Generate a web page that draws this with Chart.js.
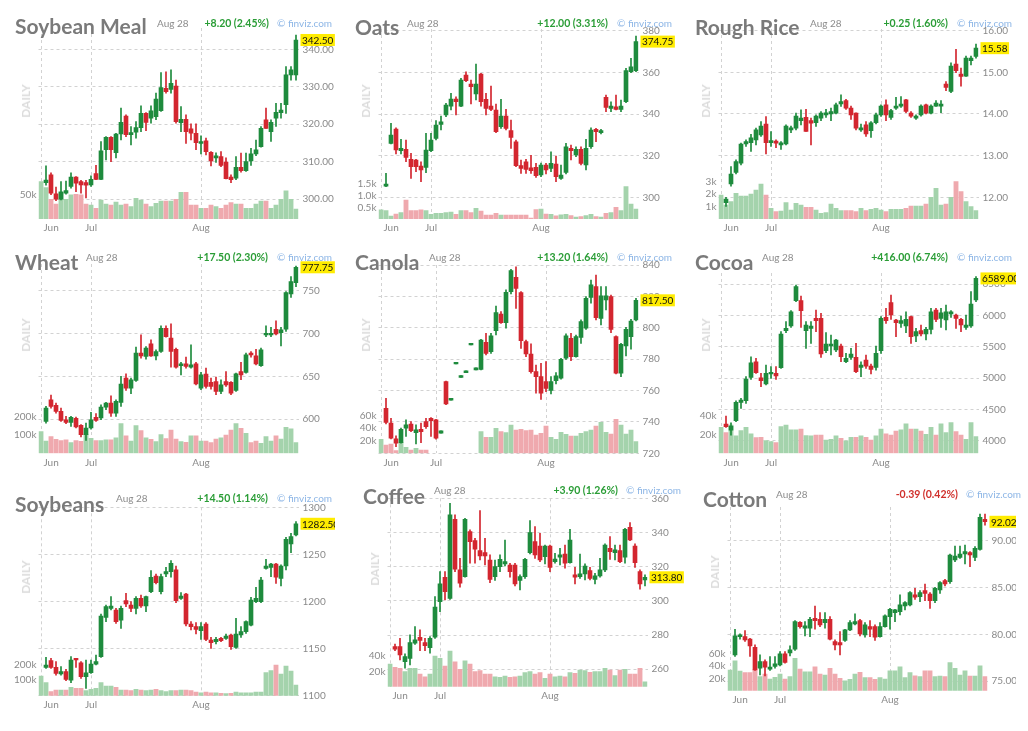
<!DOCTYPE html>
<html><head><meta charset="utf-8">
<script src="https://cdn.jsdelivr.net/npm/chart.js@4.4.0/dist/chart.umd.min.js"></script>
<style>
html,body{margin:0;padding:0;background:#fff;}
body{width:1028px;height:731px;position:relative;overflow:hidden;font-family:Lato,sans-serif;}
.t{position:absolute;white-space:nowrap;line-height:1;}
.title{font-size:21px;font-weight:700;color:#7a7a7a;}
.date{font-size:10px;color:#8c8c8c;}
.chg{font-size:10.5px;font-weight:700;transform:translateX(-100%);}
.fv{font-size:10px;color:#8db6e6;}
.daily{font-size:12px;font-weight:700;color:#dcdcdc;transform:translate(-50%,-50%) rotate(-90deg);}
.wrap{position:absolute;}
</style></head><body>
<script>
// ---------- DATA ----------
const names = ['Soybean Meal','Oats','Rough Rice','Wheat','Canola','Cocoa','Soybeans','Coffee','Cotton'];
const dateText = 'Aug 28';
const changes = ['+8.20 (2.45%)','+12.00 (3.31%)','+0.25 (1.60%)','+17.50 (2.30%)','+13.20 (1.64%)','+416.00 (6.74%)','+14.50 (1.14%)','+3.90 (1.26%)','-0.39 (0.42%)'];
const monthLabels = ['Jun','Jul','Aug'];
const monthIdx = [0,10,32];
const canolaMonthIdx = [0,11,33];

const mealO=[null,304.4,306.5,301.4,300,301.6,303.4,305.9,304.7,304.4,303.8,306.8,305.3,313.2,316.5,312.4,317.4,322.2,317.2,317.9,319.1,322.9,321.6,322,323.6,329.6,329.3,330.2,320.4,321.3,318.8,317.6,314.9,315.6,312.5,311,311.4,309.9,305.9,305.6,308.5,307.6,310.2,312.1,314,321.2,318,321.6,323.1,325.2,333.2,333.2];
const mealH=[null,308.9,307,303.2,304.7,304.8,307,306,305,305,306.2,309,315.4,316.7,316.7,317.6,324.3,322.5,319.4,320.7,324.9,323.1,324.9,328.3,333.8,334,334.5,331.8,324.7,322.5,320.1,320.1,316.9,316.3,312.7,312.4,312.7,311,306.5,311.4,312.3,312.3,313.6,315.8,319.4,324.3,321.2,325.6,325.6,335.4,335.4,343.8];
const mealL=[null,303.7,301.2,299.6,299.8,301.3,302.9,302,301.6,300.3,303.4,305.2,305.2,310.5,310,311,315.8,316.7,314.5,316.3,318,318.3,320.3,321.2,323.4,328.3,328.3,320.3,318,314.9,315.8,313.2,312.1,311.8,308.9,309.8,308.7,305.4,304.4,305.2,307.2,307.4,309,311.6,313.9,318.9,315.4,319.4,321.6,322.9,331.8,331.8];
const mealC=[null,305.1,301.6,300,301.9,302.3,305.9,304.3,303.8,303.7,305.3,305.3,312.9,316.5,313.2,317.4,320.5,317.2,317.8,319.1,322.9,320.5,323.6,326.7,329.8,328.7,330.9,320.7,321.3,318,317.6,315.1,315.4,312.7,310.2,311.6,309,305.5,305.2,308.5,307.6,310,312.1,313.2,318.9,318.9,320.5,323.2,323.8,333.2,334.5,342.5];
const mealV=[75.7,63.5,39.9,30.4,55.4,39.9,48.7,50,48.7,30.4,28.4,21.6,38.5,30.4,28.4,34.5,28.4,30.4,25,41.9,38.5,30.4,25,31.8,36.5,36.5,36.5,39.9,54,54,28.4,28.4,21.6,21.6,28.4,25,21.6,28.4,33.1,30.4,30.4,21.6,21.6,30.4,36.5,36.5,21.6,28.4,39.9,56.8,39.9,20.3];

const oatsO=[null,305.4,325.9,332.8,322.4,323,318.2,317.9,315,314.4,322.4,328.3,335,339.5,343.8,347.2,343.8,358.7,354.4,349.6,359.2,347,343.8,341.9,333.9,339,332,326.7,315.2,317.1,314.2,314.4,310.7,315.5,313.9,316,309.1,312,323.5,320.3,323,315.5,324.3,332.6,331,348,342.7,343.5,342.2,345.9,360.3,360.8];
const oatsH=[null,311.5,335.5,333.4,327.8,327.5,321.1,318.2,317.1,330.7,330.7,336.8,339,345.1,349.9,348.3,357.1,360.3,356.3,364,359.5,349.9,353.4,344.8,347,342.2,337.1,327.5,317.9,318.2,320.2,316.3,316.5,316.3,321.9,319.8,315.5,325.9,325.1,324.3,324.3,327.8,333.4,333.1,332.6,349.1,345.9,349.1,346.7,361.9,366.7,377.4];
const oatsL=[null,305.1,325.6,320.8,320.8,317.1,309.1,312.3,307.5,311.8,321.9,327.5,332.3,338.7,341.9,339.5,343.5,355.5,344.8,346.7,343.8,339.5,341.6,331,333.1,332.3,323.5,314.7,311.5,311.5,311.5,309.6,309.9,311.2,312.3,307.5,308.6,311.2,317.9,319.5,315.5,313.1,323.5,326.7,330.4,341.1,341.1,341.9,341.1,345.4,359.8,360.3];
const oatsC=[null,306.4,329.9,322.7,323.5,319.2,314.7,314.7,313.1,322.7,327.5,334.7,336.3,344.3,347.2,345.9,356.3,356,353.1,354.4,345.9,342.7,342.2,331.5,339,333.1,328.8,315.2,313.9,313.4,312.8,310.4,315.5,313.1,316.3,309.9,310.7,324.3,322.4,323,316.3,323.5,332.3,331.5,332,343.2,343.8,342.2,343.8,360.8,362.7,374.75];
const oatsV=[0.39,0.36,0.13,0.21,0.27,0.81,0.36,0.36,0.39,0.36,0.2,0.24,0.24,0.27,0.3,0.2,0.36,0.36,0.27,0.46,0.34,0.17,0.17,0.24,0.17,0.17,0.17,0.17,0.17,0.17,0.04,0.4,0.43,0.21,0.2,0.14,0.18,0.2,0.15,0.08,0.1,0.15,0.2,0.1,0.08,0.24,0.28,0.5,0.36,1.39,0.64,0.43];

const riceO=[null,11.87,12.32,12.6,12.82,13.28,13.31,13.38,13.5,13.76,13.31,13.35,13.26,13.28,13.62,13.66,13.84,13.92,13.84,13.79,13.9,13.98,14.0,14.02,14.24,14.32,14.14,14.02,13.62,13.74,13.6,13.79,13.98,14.22,13.92,14.14,14.19,14.34,14.02,13.9,13.98,14.22,14.02,14.19,14.19,14.72,14.54,15.2,14.96,14.91,15.28,15.38];
const riceH=[null,12.0,12.74,12.9,13.3,13.38,13.51,13.66,13.82,13.94,13.58,13.38,13.34,13.74,13.71,14.02,14.1,14.11,13.9,13.98,14.06,14.11,14.14,14.26,14.46,14.35,14.19,14.03,13.76,13.82,13.82,14.02,14.22,14.34,14.11,14.4,14.42,14.35,14.06,13.98,14.22,14.24,14.22,14.32,14.32,14.78,15.23,15.55,15.1,15.39,15.39,15.68];
const riceL=[null,11.78,12.27,12.56,12.78,13.22,13.1,13.26,13.46,13.04,13.22,13.19,13.15,13.26,13.55,13.62,13.74,13.58,13.26,13.7,13.84,13.92,13.84,14.0,14.18,14.11,13.87,13.62,13.58,13.46,13.44,13.76,13.94,13.84,13.87,14.11,14.16,14.03,13.92,13.87,13.95,14.0,14.0,14.18,14.03,14.56,14.51,14.99,14.67,14.9,15.18,15.34];
const riceC=[null,11.96,12.56,12.86,13.28,13.34,13.43,13.62,13.71,13.31,13.36,13.3,13.31,13.71,13.67,13.95,13.9,13.58,13.78,13.95,14.02,14.03,14.06,14.22,14.3,14.14,13.98,13.66,13.67,13.52,13.79,13.98,14.19,13.98,14.08,14.19,14.24,14.06,13.95,13.95,14.19,14.02,14.19,14.26,14.24,14.64,15.15,15.04,14.9,15.34,15.34,15.58];
const riceV=[1.92,1.12,1.39,2.05,1.84,1.84,2.0,2.32,2.8,1.92,0.85,0.59,0.64,1.31,0.72,1.25,1.12,0.93,0.93,0.72,0.45,0.51,1.2,0.85,0.67,0.67,0.67,0.59,0.85,0.67,0.77,0.85,0.72,0.59,0.77,0.77,0.77,0.85,1.04,1.04,1.04,1.2,1.73,2.45,1.12,1.2,1.73,2.99,2.19,1.39,0.99,0.67];

const wheatO=[null,597.3,622.6,616,609,599.2,596.1,600.8,592.6,581.7,589.5,602,601.2,614,618.7,607,619.5,647.9,636.2,645.2,677.2,673.3,688,674,679.1,706.4,694.7,681.8,662.4,664.7,660.8,664.7,636.2,652.6,642.9,644,632.3,644,642.9,633.5,655.7,654.6,677.2,674,662.4,698.6,698.6,705.2,701.3,705.2,746.5,759.7];
const wheatH=[null,614.8,628,618.7,612.9,603.1,603.1,602.4,593.4,595.3,607.8,606.3,616.8,619.5,627.3,622.6,650,653,648,684.2,698.6,685,692.7,681,709.1,709.1,711.4,683,666.3,672.5,686.9,666.3,654.6,659.6,647.9,649.1,646,655.7,644,653.8,666.3,677.2,679.1,681.8,683,709.1,707.5,715,707.5,749.2,766.8,779.2];
const wheatL=[null,595.3,612.9,607,597.3,594.6,591.4,589.5,579,575.1,588.3,597.3,599.2,610.9,603.1,603.1,614.8,633.5,629.6,644,671.3,670.1,673.3,669.4,677.9,695.9,660.8,659.6,651.8,659.6,659.6,640.1,634.3,636.2,635.1,628.5,629.6,638.2,628.5,632.3,646,653.8,672.5,663.5,661.6,696.6,696.6,698.6,685.7,702.5,742.6,755];
const wheatC=[null,612.9,614.8,609,598.5,596.1,602,590.7,581.7,589.5,599.2,598.5,614,618.7,607,620.7,640.9,636.2,646,677.2,674,683,674,679.1,706.4,696.6,679.1,660.8,664.7,661.6,663.5,641.3,651.8,638.2,638.2,632.3,640.1,640.1,630.4,653,651.8,675.2,675.2,664.7,681,700.5,700.5,699.7,704.4,748,760.9,777.75];
const wheatV=[118,67,91,76,69,73,58,69,65,104,82,69,69,73,73,85,162,95,67,151,124,85,76,64,102,80,127,78,64,60,96,96,67,67,58,78,85,100,127,162,136,109,58,67,55,91,67,95,78,142,133,58];

const canolaO=[null,748.7,739.2,729.2,726.8,736,738.7,733.2,735.3,740.2,742.3,741.3,732.8,765.7,753.8,777,768.4,771.4,789,773.1,773.5,790.7,784.8,798.2,808.8,803.3,823,832.1,822.4,791.2,783.3,772.1,768.9,765.7,760,766.3,767.8,780.6,793.3,781.6,793.9,799.7,819.4,826.2,806,817.7,819.8,794.4,771,788.4,794.4,805];
const canolaH=[null,755.1,742.3,731.1,736,741.3,740.2,738.1,739.2,742.3,742.8,741.7,734.3,766.1,755.1,778,769.5,772.5,790.1,774.4,792.7,796.5,796.5,813.9,810.3,824.1,837.2,838.9,823,792.2,789.7,776.3,777.4,778.4,768.9,771.4,780.6,796.1,796.5,795.4,805,819.8,830.4,833.6,826.2,826.2,820.9,794.8,790.1,800.3,805.4,818.8];
const canolaL=[null,738.7,729.2,724.3,726.4,730.7,733.8,726,726.8,735.9,730.7,729,732.8,751,753.8,777,768.4,771.4,789,773.1,773.1,782.7,783.7,795.4,802.8,799.7,821.5,812.4,786.9,781.6,771,758.3,754.4,759.3,757.8,764.2,767.2,779.9,779.1,781.2,790.1,799,815.6,805,801.8,811.3,796.9,770.6,768.9,782,786.3,804.3];
const canolaC=[null,739.6,729.6,726.4,735.3,738.1,734.5,734.9,733.8,737,740.8,729.6,734.3,751.5,755.1,778,769.5,772.5,790.1,774.4,792.2,783.7,794.8,809.6,803.3,822.6,836.4,825.1,791.8,783.3,772.1,768.9,758.3,761.4,765.7,769.3,779.9,794.8,781.6,794.4,803.9,818.8,827.3,806.5,820.3,820.3,799,771,789.5,799,804.3,817.5];
const canolaV=[22.4,13.3,14.9,4.3,17,9.6,5.3,8,5.3,5.3,null,null,null,null,null,null,null,null,null,null,34.7,25.6,25.6,40,34.7,33,45.3,37.3,38.4,36.3,37.3,29.3,32,43.7,25.6,22.4,33.6,30.4,27.7,27.7,32,34.7,37.3,43.7,49.6,33.6,30.9,54.4,45.3,30.9,37.3,18.7];

const cocoaO=[null,4266,4170,4319,4611,4638,5010,5260,5005,4904,5064,5074,5165,5755,5830,6234,6234,5755,5792,5952,5952,5436,5511,5447,5511,5260,5330,5330,5170,5287,5191,5170,5436,5968,6202,5925,5872,5830,5979,5670,5755,5702,5777,6085,5952,5925,6021,6005,5936,5808,5830,6245];
const cocoaH=[null,4393,4287,4638,4675,5021,5340,5314,5074,5207,5181,5181,5739,5899,6074,6484,6308,5899,5899,6085,6032,5723,5686,5617,5542,5394,5473,5553,5260,5367,5223,5511,5979,6112,6324,5936,5989,6058,5989,5792,5846,5808,6112,6112,6112,6165,6074,6021,5952,6005,6378,6617];
const cocoaL=[null,4212,4090,4303,4516,4596,4979,5074,4861,4888,4994,4979,5154,5723,5808,6218,5808,5473,5553,5739,5330,5404,5367,5420,5260,5244,5298,5085,5021,5154,5064,5127,5394,5872,5936,5659,5808,5723,5553,5580,5670,5606,5702,5899,5808,5766,5968,5792,5739,5777,5808,6218];
const cocoaC=[null,4223,4234,4611,4649,4984,5244,5085,4957,5074,5090,5032,5702,5792,6058,6457,6074,5846,5830,5915,5383,5542,5542,5606,5340,5314,5383,5101,5207,5191,5138,5394,5952,5915,6005,5883,5915,5936,5659,5739,5702,5777,6058,5936,6042,6058,6058,5952,5846,5846,6181,6589];
const cocoaV=[27.4,21.8,29.8,18.3,23.9,27.4,20.4,16.5,16.8,13.3,12.3,11.2,28.1,29.8,24.6,24.6,25.6,18.6,18.3,19.3,19.3,14,14.7,18.3,15.8,13,16.8,16.8,18.3,16.8,14,18.3,25.6,20.4,19.3,23.5,24.6,30.9,25.6,25.6,23.5,20,27.4,19.3,30.9,21.8,32.3,22.8,19.3,14.7,32.3,17.6];

const soyO=[null,1130.1,1137.2,1130.1,1123,1125.5,1116.6,1139.6,1135,1120.2,1124.4,1133.6,1141.4,1183.2,1192.7,1191,1180.3,1200.9,1196.3,1192.7,1203.4,1195.2,1210.4,1227.1,1210.4,1229.2,1231.7,1233.5,1203.4,1208,1176.1,1173.3,1169,1176.1,1159.1,1157.3,1160.9,1160.9,1164.4,1151.3,1164.4,1168,1175,1199.8,1199.8,1235.2,1236.3,1239.8,1224.6,1237.7,1261.1,1270.6];
const soyH=[null,1140.7,1139.6,1136.1,1130.8,1128,1141.4,1139.6,1136.1,1137.9,1137.9,1143.2,1186.7,1196.3,1205.1,1192.7,1195.2,1208.7,1199.8,1205.1,1206.9,1205.8,1232.7,1229.2,1229.2,1236.3,1243.4,1237.7,1209.4,1208.7,1178.6,1177.5,1177.5,1177.5,1161.9,1161.9,1161.9,1165.5,1165.5,1182.1,1173.3,1179.6,1204.4,1215,1225.7,1244.8,1240.5,1240.5,1238.8,1268.1,1272.4,1284.8];
const soyL=[null,1129,1129,1121.9,1121.9,1115.9,1113.8,1130.1,1118.4,1107.8,1123.7,1132.6,1140.7,1178.6,1191,1176.8,1171.5,1194.5,1189.2,1186.7,1193.8,1189.2,1209.4,1218.6,1208,1226.4,1225.7,1198.8,1202.3,1174,1169.7,1165.5,1159.8,1158.4,1150.3,1154.9,1157.3,1159.8,1149.2,1150.3,1161.9,1166.2,1174,1198.8,1198.8,1234.2,1226.4,1219.3,1216.5,1233.5,1251.9,1269.6];
const soyC=[null,1132.6,1130.1,1123.7,1125.5,1117.3,1137.9,1137.9,1120.2,1124.4,1133.6,1136.1,1184.6,1194.5,1195.2,1178.6,1192.7,1197.3,1192.7,1203.4,1195.2,1205.1,1225.7,1220,1226.4,1231.7,1240.5,1200.9,1205.8,1176.1,1173.3,1170.4,1173.3,1159.8,1156.3,1159.8,1158.4,1163.4,1152,1165.5,1168,1178.6,1201.6,1203.4,1222.8,1237.7,1239.8,1225.7,1237.7,1266,1268.9,1282.5];
const soyV=[125.5,83,25.5,36.2,36.2,36.2,53.2,46.8,46.8,31.9,40.4,46.8,83,61.7,61.7,53.2,36.2,36.2,31.9,40.4,36.2,31.9,36.2,40.4,31.9,25.5,31.9,31.9,36.2,36.2,31.9,23.4,19.1,23.4,19.1,19.1,14.9,12.8,14.9,23.4,19.1,19.1,19.1,23.4,23.4,146.8,159.6,195.7,138.3,189.4,157.4,68.1];

const coffeeO=[null,273.3,273.3,264.5,266.4,275.2,278.7,275.6,272.7,278.7,299.6,313.8,301.5,347.7,318.1,314.2,340.5,335.2,329.4,328.2,323.9,314.2,320,321.6,321,321,311.9,314.2,328.2,334.7,332.1,325.9,332.1,323,325.5,327.4,322.4,315.2,314.2,315.8,317.7,312.6,314.6,318.1,330.8,328.2,329.4,325.5,343,332.1,317.1,312.2];
const coffeeH=[null,274.8,278.1,269,280.1,285,283,278.1,279.1,302.5,317.1,317.1,357.1,350.3,324.9,348.3,341.5,336.6,352.8,336.6,326.9,323.9,326.9,335.6,322,322,315.2,324.9,346.9,343.4,339.5,332.7,332.7,327.8,330.8,332.7,341.9,319.6,327.4,321.6,319.6,316.1,324.9,333.3,337.6,332.7,332.7,342.5,345.8,333.3,318.1,315.2];
const coffeeL=[null,270.9,265.5,260.6,262.5,274.6,270.9,270.9,269.4,278.1,293.7,300.5,300.9,317.1,308,313.8,322,322,323.9,321,310.7,311.9,317.1,320.4,313.8,308.7,306.4,313.2,327.4,324.9,323,321.6,317.1,322,321,319.1,322,309.9,313.2,312.2,312.2,309.9,313.8,317.1,324.3,323.9,322.4,322,335.2,319.6,306.8,308.7];
const coffeeC=[null,271.7,268.4,267.4,275.6,277.2,276.8,273.8,278.1,296.3,309.9,305.4,350.3,318.5,310.3,347.7,334.7,330.2,326.3,326.3,312.6,320,324.3,323,317.1,309.9,314.2,324.3,339.9,326.9,323.9,332.1,319.6,324.5,326.9,322,335.6,313.8,315.8,320.4,313.2,314.6,318.1,332.7,328.8,329.8,323,341.9,335.6,322.4,309.9,313.8];
const coffeeV=[29.6,25.2,23.9,19.6,23.9,23.9,16.5,13,16.5,40,37,27,46.5,32.6,22.6,33.9,29.6,19.6,20.9,16.5,16.5,13,12.2,13.9,12.2,13,13.9,18.3,19.6,16.5,18.3,10.9,16.5,13,13.9,13,18.3,17.4,21.8,20.9,18.7,19.6,19.6,23.9,21.8,14.4,21.8,22.6,16.5,16.5,23.9,6.5];

const cottonO=[null,77.81,79.76,79.76,79.48,78.62,76.38,77.1,76.28,76.56,76.74,77.91,78.02,78.41,81.29,80.65,80.65,81.72,81.61,81.25,81.61,79.23,79.12,79.34,80.47,81.11,81.47,79.94,80.83,80.83,79.76,80.83,81.9,82.32,82.43,83.03,83.14,84.21,84.03,84.67,84.31,83.6,84.74,85.73,85.63,87.94,88.22,88.58,88.72,88.22,89.08,92.28];
const cottonH=[null,80.54,80.05,80.4,79.58,78.87,77.81,77.27,77.63,77.63,78.16,78.16,78.77,81.47,81.36,81.36,81.82,83.03,82.32,82.32,81.9,79.41,80.3,80.54,81.47,82.18,81.61,81.25,81.47,81.01,81.25,82.07,82.78,82.68,84.21,83.49,84.56,84.92,84.67,85.38,84.45,85.02,85.63,85.88,88.58,89.43,89.43,89.54,88.83,89.36,92.84,92.84];
const cottonL=[null,77.63,79.48,79.23,77.63,76.14,75.67,75.57,76.14,76.38,76.63,76.92,77.7,78.27,80.65,79.83,79.76,80.54,80.83,80.65,79.41,78.34,77.81,79.23,80.4,81.01,79.83,79.69,79.76,79.34,79.69,80.76,80.54,81.36,82.07,82.61,83.03,83.74,83.49,83.6,82.78,83.39,84.38,85.17,85.45,87.76,88.12,87.51,87.23,87.87,89.0,91.67];
const cottonC=[null,79.83,79.94,79.41,78.77,76.21,77.1,76.49,76.49,76.85,77.91,76.99,78.34,81.36,80.83,80.9,81.61,81.47,81.01,81.61,79.48,78.87,78.87,80.47,81.25,81.36,80.05,81.01,80.54,79.69,80.83,81.97,82.68,82.61,83.14,83.39,84.45,83.96,84.45,84.38,83.6,84.92,85.52,85.38,88.47,88.36,88.58,88.83,88.47,89.18,92.49,92.02];
const cottonV=[33.5,48.6,31.9,29.2,29.2,34.6,22.7,27,18.9,21.6,27,18.9,22.7,52.4,35.1,30.8,30.8,38.9,27,25.4,36.2,27,20,16.2,18.4,27,29.7,21.1,21.1,18.4,21.1,18.9,32.4,32.4,38.9,21.1,29.2,24.3,22.7,32.4,32.4,22.7,23.8,22.7,45.4,36.2,25.4,32.4,23.8,23.8,40.5,22.7];

// axis tick values
const mealTicks=[300,310,320,330,340], oatsTicks=[300,320,340,360,380], riceTicks=[12,13,14,15,16];
const wheatTicks=[600,650,700,750], canolaTicks=[720,740,760,780,800,820,840], cocoaTicks=[4000,4500,5000,5500,6000,6500];
const soyTicks=[1100,1150,1200,1250,1300], coffeeTicks=[260,280,300,320,340,360], cottonTicks=[75,80,85,90];
const mealVolTicks=[50], oatsVolTicks=[0.5,1.0,1.5], riceVolTicks=[1,2,3], wheatVolTicks=[100,200], canolaVolTicks=[20,40,60];
const cocoaVolTicks=[20,40], soyVolTicks=[100,200], coffeeVolTicks=[20,40], cottonVolTicks=[20,40,60];

// ---------- LAYOUT (positions / ranges) ----------
const series = [
 {O:mealO,H:mealH,L:mealL,C:mealC,V:mealV,yt:mealTicks,vt:mealVolTicks,dec:2,vdec:0,months:monthIdx},
 {O:oatsO,H:oatsH,L:oatsL,C:oatsC,V:oatsV,yt:oatsTicks,vt:oatsVolTicks,dec:0,vdec:1,months:monthIdx},
 {O:riceO,H:riceH,L:riceL,C:riceC,V:riceV,yt:riceTicks,vt:riceVolTicks,dec:2,vdec:0,months:monthIdx},
 {O:wheatO,H:wheatH,L:wheatL,C:wheatC,V:wheatV,yt:wheatTicks,vt:wheatVolTicks,dec:0,vdec:0,months:monthIdx},
 {O:canolaO,H:canolaH,L:canolaL,C:canolaC,V:canolaV,yt:canolaTicks,vt:canolaVolTicks,dec:0,vdec:0,months:canolaMonthIdx},
 {O:cocoaO,H:cocoaH,L:cocoaL,C:cocoaC,V:cocoaV,yt:cocoaTicks,vt:cocoaVolTicks,dec:0,vdec:0,months:monthIdx},
 {O:soyO,H:soyH,L:soyL,C:soyC,V:soyV,yt:soyTicks,vt:soyVolTicks,dec:0,vdec:0,months:monthIdx},
 {O:coffeeO,H:coffeeH,L:coffeeL,C:coffeeC,V:coffeeV,yt:coffeeTicks,vt:coffeeVolTicks,dec:0,vdec:0,months:monthIdx},
 {O:cottonO,H:cottonH,L:cottonL,C:cottonC,V:cottonV,yt:cottonTicks,vt:cottonVolTicks,dec:2,vdec:0,months:monthIdx}
];
const layout = [
 {box:[0,0,335,240],   plot:[38.5,28,298.5,219],    yr:[294.7,345.7], vMax:386.6, title:[15,18.3],  date:[157,19.3],  chgR:269, fv:277, daily:[25.5,101]},
 {box:[345,0,340,240], plot:[378.5,29,638.5,219],   yr:[289.6,380.8], vMax:8.14,  title:[355,20],   date:[407,19.3],  chgR:608, fv:617, daily:[366,101]},
 {box:[685,0,331,240], plot:[718.5,29,978.5,219],   yr:[11.479,16.04],vMax:15.2,  title:[695,20],   date:[810,19.3],  chgR:948, fv:957, daily:[706,101]},
 {box:[0,240,335,238], plot:[38.5,264,298.5,453.3], yr:[559.9,781.6], vMax:1033,  title:[15,255],   date:[86,253.3],  chgR:268, fv:277, daily:[25.5,335]},
 {box:[345,240,340,238],plot:[378.5,265,638.5,453.3],yr:[720,840],    vMax:301,   title:[355,255],  date:[429,253.3], chgR:608, fv:617, daily:[366,335]},
 {box:[685,240,331,238],plot:[718.5,273,978.5,453.3],yr:[3799,6675.5],vMax:189.8, title:[695,255],  date:[762,253.3], chgR:948, fv:957, daily:[706,335]},
 {box:[0,480,335,245], plot:[38.5,507.3,298.5,695.7],yr:[1100,1300],  vMax:1202,  title:[15,496.7], date:[116,495],   chgR:268, fv:277, daily:[25.5,577]},
 {box:[345,480,340,245],plot:[387.5,498.3,647.5,686.7],yr:[249.8,360],vMax:245.8, title:[363,488.3],date:[434,486.7], chgR:618, fv:626, daily:[375,569]},
 {box:[685,480,331,245],plot:[727.5,507,987.5,690.7],yr:[73.98,93.6], vMax:297.9, title:[703,491.7],date:[776,490.7], chgR:958, fv:966, daily:[715,572]}
];

// ---------- STYLE ----------
const UP='#1e8b3d', DOWN='#d3262f', VUP='#a4d3ac', VDOWN='#efa9ae';
const GRID='#d2d2d2', TICK='#8a8a8a';
Chart.defaults.font.family='Lato';

const priceTag = {
  id:'priceTag',
  afterDraw(chart, args, opts){
    const {ctx, chartArea} = chart;
    const y = chart.scales.y.getPixelForValue(opts.value);
    const txt = opts.value.toFixed(2);
    ctx.save();
    ctx.font = '10px Lato';
    const w = ctx.measureText(txt).width;
    ctx.fillStyle = '#ffec00';
    ctx.fillRect(chartArea.right + 2, y - 6, w + 3, 12);
    ctx.fillStyle = '#111';
    ctx.textBaseline = 'middle';
    ctx.textAlign = 'left';
    ctx.fillText(txt, chartArea.right + 3.5, y + 0.5);
    ctx.restore();
  }
};

function addText(cls, txt, x, y, color){
  const d = document.createElement('div');
  d.className = 't ' + cls; d.textContent = txt;
  d.style.left = x + 'px'; d.style.top = y + 'px';
  if (color) d.style.color = color;
  document.body.appendChild(d);
  return d;
}

series.forEach((s, k) => {
  const lay = layout[k];
  const [bx, by, bw, bh] = lay.box;
  const [pl, pt, pr, pb] = lay.plot;
  const N = s.C.length;
  const wick=[], body=[], vol=[], colC=[], colV=[];
  for (let i=0;i<N;i++){
    const has = s.O[i] != null;
    const up = has ? s.C[i] >= s.O[i] : true;
    wick.push({x:i, y: has ? [s.L[i], s.H[i]] : null});
    body.push({x:i, y: has ? [s.O[i], s.C[i]] : null});
    vol.push({x:i, y: s.V[i]});
    colC.push(up ? UP : DOWN);
    colV.push(up ? VUP : VDOWN);
  }
  const wrap = document.createElement('div');
  wrap.className = 'wrap';
  wrap.style.left = bx + 'px'; wrap.style.top = by + 'px';
  wrap.style.width = bw + 'px'; wrap.style.height = bh + 'px';
  const cv = document.createElement('canvas');
  cv.width = bw; cv.height = bh;
  cv.style.width = bw + 'px'; cv.style.height = bh + 'px';
  wrap.appendChild(cv);
  document.body.appendChild(wrap);

  const tickFont = {family:'Lato', size:10};
  new Chart(cv, {
    type:'bar',
    data:{datasets:[
      {data:body, backgroundColor:colC, barThickness:4, grouped:false, minBarLength:1.2, order:0, yAxisID:'y', borderWidth:0},
      {data:wick, backgroundColor:colC, barThickness:1, grouped:false, order:1, yAxisID:'y', borderWidth:0},
      {data:vol, backgroundColor:colV, barThickness:4.2, grouped:false, order:2, yAxisID:'v', borderWidth:0}
    ]},
    options:{
      responsive:false, animation:false, events:[],
      layout:{padding:{top: pt - by, left:0, right:0, bottom:0}},
      plugins:{legend:{display:false}, tooltip:{enabled:false}, priceTag:{value: s.C[N-1]}},
      scales:{
        x:{type:'linear', min:-0.5, max:N-0.5, offset:false,
           grid:{offset:false, color:GRID, drawTicks:false},
           border:{display:false, dash:[3,3]},
           ticks:{color:TICK, font:tickFont, padding:3, autoSkip:false, maxRotation:0,
             callback:(v,i)=> i===0 ? '\u00a0'.repeat(8) + monthLabels[i] : monthLabels[i]},
           afterBuildTicks: a => { a.ticks = s.months.map(v => ({value:v})); },
           afterFit: a => { a.height = by + bh - pb; }
        },
        y:{type:'linear', position:'right', min:lay.yr[0], max:lay.yr[1],
           grid:{color:GRID, drawTicks:false},
           border:{display:false, dash:[3,3]},
           ticks:{color:TICK, font:tickFont, padding:4, autoSkip:false, callback:v => v.toFixed(s.dec)},
           afterBuildTicks: a => { a.ticks = s.yt.map(v => ({value:v})); },
           afterFit: a => { a.width = bx + bw - pr; }
        },
        v:{type:'linear', position:'left', min:0, max:lay.vMax,
           grid:{display:false, drawTicks:false}, border:{display:false},
           ticks:{color:TICK, font:tickFont, padding:2, autoSkip:false, callback:v => v.toFixed(s.vdec) + 'k'},
           afterBuildTicks: a => { a.ticks = s.vt.map(v => ({value:v})); },
           afterFit: a => { a.width = pl - bx; }
        }
      }
    },
    plugins:[priceTag]
  });

  addText('title', names[k], lay.title[0], lay.title[1] - 3.6);
  addText('date', dateText, lay.date[0], lay.date[1] - 1.7);
  const neg = changes[k].startsWith('-');
  addText('chg', changes[k], lay.chgR, lay.date[1] - 1.8, neg ? '#d0302c' : '#2a9d36');
  addText('fv', '\u00a9 finviz.com', lay.fv, lay.date[1] - 1.7);
  addText('daily', 'DAILY', lay.daily[0], lay.daily[1]);
});
</script>
</body></html>
